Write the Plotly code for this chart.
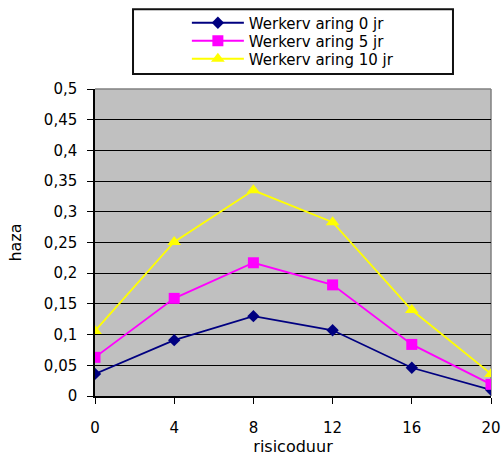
import plotly.graph_objects as go

risicoduur = [0, 4, 8, 12, 16, 20]
werk_0 = [0.036, 0.091, 0.130, 0.107, 0.046, 0.010]
werk_5 = [0.063, 0.159, 0.217, 0.181, 0.084, 0.019]
werk_10 = [0.106, 0.251, 0.335, 0.283, 0.140, 0.036]
series_names = ["Werkerv aring 0 jr", "Werkerv aring 5 jr", "Werkerv aring 10 jr"]
y_ticks = [0, 0.05, 0.1, 0.15, 0.2, 0.25, 0.3, 0.35, 0.4, 0.45, 0.5]

FONT = "DejaVu Sans, Arial, sans-serif"

fig = go.Figure()
fig.add_trace(go.Scatter(x=risicoduur, y=werk_0, name=series_names[0], mode="lines+markers",
                         legend="legend",
                         line=dict(color="#000080", width=1.8),
                         marker=dict(symbol="diamond", size=9.5, color="#000080")))
fig.add_trace(go.Scatter(x=risicoduur, y=werk_5, name=series_names[1], mode="lines+markers",
                         legend="legend2",
                         line=dict(color="#FF00FF", width=1.8),
                         marker=dict(symbol="square", size=11, color="#FF00FF")))
fig.add_trace(go.Scatter(x=risicoduur, y=werk_10, name=series_names[2], mode="lines+markers",
                         legend="legend3",
                         line=dict(color="#FFFF00", width=1.8),
                         marker=dict(symbol="triangle-up", size=12, color="#FFFF00")))

leg_common = dict(x=0.232, xanchor="left", yanchor="middle", bgcolor="rgba(0,0,0,0)",
                  font=dict(size=15, family=FONT, color="black"), itemwidth=52, borderwidth=0)

fig.update_layout(
    width=504, height=456,
    margin=dict(l=95, r=13, t=89, b=60, autoexpand=False),
    paper_bgcolor="white",
    plot_bgcolor="#C0C0C0",
    separators=",.",
    font=dict(family=FONT, size=15, color="black"),
    showlegend=True,
    legend=dict(y=1.2150, **leg_common),
    legend2=dict(y=1.1564, **leg_common),
    legend3=dict(y=1.0977, **leg_common),
    shapes=[
        dict(type="rect", xref="paper", yref="paper", x0=0.096, x1=0.904, y0=1.0489, y1=1.2596,
             line=dict(color="#111111", width=2), fillcolor="rgba(0,0,0,0)"),
        dict(type="line", xref="paper", yref="paper", x0=0, x1=1, y0=1, y1=1,
             line=dict(color="#808080", width=1.5), layer="between"),
        dict(type="line", xref="paper", yref="paper", x0=1, x1=1, y0=0, y1=1,
             line=dict(color="#808080", width=1.5), layer="between"),
    ],
)
fig.update_xaxes(range=[0, 20], tickvals=risicoduur, ticks="outside", ticklen=6,
                 tickcolor="black", tickwidth=1.3, showline=True, linecolor="black", linewidth=1.5,
                 showgrid=False, zeroline=False, ticklabelstandoff=11, automargin=False,
                 title=dict(text="risicoduur", font=dict(size=16), standoff=0))
fig.update_yaxes(range=[0, 0.5], tickvals=y_ticks, ticks="outside", ticklen=6,
                 tickcolor="black", tickwidth=1.3, showline=True, linecolor="black", linewidth=1.5,
                 showgrid=True, gridcolor="black", gridwidth=1.3, zeroline=False,
                 ticklabelstandoff=7, automargin=False,
                 title=dict(text="haza", font=dict(size=16), standoff=18))

fig.write_html("out.html")
